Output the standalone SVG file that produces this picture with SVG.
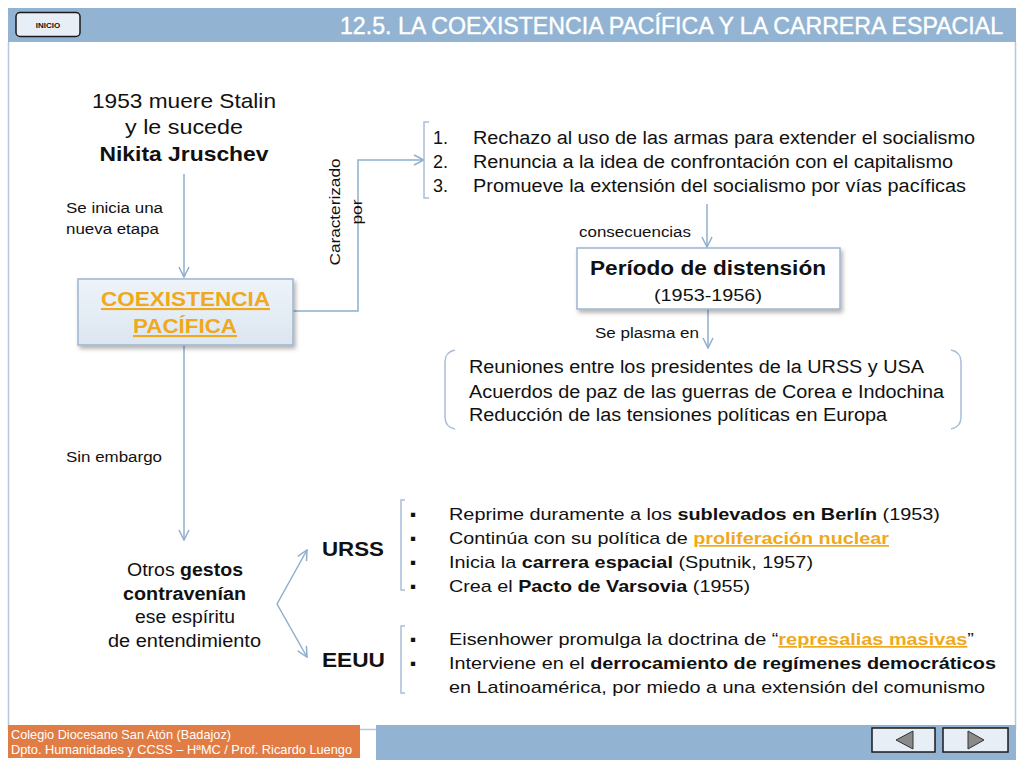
<svg xmlns="http://www.w3.org/2000/svg" width="1024" height="768" viewBox="0 0 1024 768">
<defs>
<style>
text{font-family:"Liberation Sans",Arial,Helvetica,sans-serif;fill:#111}
.b{font-weight:bold}
.c{text-anchor:middle}
.link{fill:#F0A81C;font-weight:bold;text-decoration:underline}
.con{fill:none;stroke:#8FAECD;stroke-width:1.5}
.brk{fill:none;stroke:#A9BFD6;stroke-width:1.5}
.btn{fill:#E8EEF6;stroke:#1a1a1a;stroke-width:1.5}
.tri{fill:#8a8a8a;stroke:#333;stroke-width:1}
.w{fill:#fff}
</style>
<marker id="ah" viewBox="0 0 12 12" refX="11" refY="6" markerWidth="12" markerHeight="12" markerUnits="userSpaceOnUse" orient="auto">
<path d="M1,1 L11,6 L1,11" fill="none" stroke="#8FAECD" stroke-width="1.5"/>
</marker>
<filter id="sh" x="-10%" y="-10%" width="130%" height="140%">
<feDropShadow dx="2" dy="3" stdDeviation="2" flood-color="#000" flood-opacity="0.3"/>
</filter>
<linearGradient id="gb" x1="0" y1="0" x2="0" y2="1">
<stop offset="0" stop-color="#EEF3F9"/>
<stop offset="1" stop-color="#DCE6F1"/>
</linearGradient>
</defs>
<rect width="1024" height="768" fill="#fff"/>
<g id="frame">
<path d="M8.5,42 V729.5 H1015.5 V42" fill="none" stroke="#B5C8DC" stroke-width="1.5"/>
<rect x="8" y="8" width="1008" height="34" fill="#93B3D2"/>
<text x="1003" y="34" text-anchor="end" font-size="23" class="w" textLength="663" lengthAdjust="spacingAndGlyphs" style="stroke:#fff;stroke-width:0.4">12.5. LA COEXISTENCIA PACÍFICA Y LA CARRERA ESPACIAL</text>
<rect class="btn" x="16" y="12.5" width="64" height="24" rx="4"/>
<text x="48" y="28" class="c b" font-size="8">INICIO</text>
<rect x="8" y="725" width="352" height="33" fill="#E07C44"/>
<text x="11" y="739" font-size="13" class="w" textLength="220" lengthAdjust="spacingAndGlyphs">Colegio Diocesano San Atón (Badajoz)</text>
<text x="11" y="754" font-size="13" class="w" textLength="341" lengthAdjust="spacingAndGlyphs">Dpto. Humanidades y CCSS – HªMC / Prof. Ricardo Luengo</text>
<rect x="376" y="725" width="640" height="35" fill="#93B3D2"/>
<rect class="btn" x="872" y="728" width="63" height="24"/>
<polygon class="tri" points="896,740 913,731 913,749"/>
<rect class="btn" x="943" y="728" width="65" height="24"/>
<polygon class="tri" points="984,740 968,731 968,749"/>
</g>
<g id="connectors">
<line class="con" x1="184" y1="174" x2="184" y2="277" marker-end="url(#ah)"/>
<polyline class="con" points="293,311 358,311 358,160 424,160" marker-end="url(#ah)"/>
<line class="con" x1="707" y1="204" x2="707" y2="247" marker-end="url(#ah)"/>
<line class="con" x1="708" y1="309" x2="708" y2="348" marker-end="url(#ah)"/>
<line class="con" x1="184" y1="345" x2="184" y2="540" marker-end="url(#ah)"/>
<line class="con" x1="277" y1="604" x2="307" y2="550" marker-end="url(#ah)"/>
<line class="con" x1="277" y1="604" x2="307" y2="657" marker-end="url(#ah)"/>
<text x="66" y="213" font-size="14" textLength="97" lengthAdjust="spacingAndGlyphs">Se inicia una</text>
<text x="66" y="234" font-size="14" textLength="93" lengthAdjust="spacingAndGlyphs">nueva etapa</text>
<text transform="translate(340,212) rotate(-90)" class="c" font-size="14" textLength="107" lengthAdjust="spacingAndGlyphs">Caracterizado</text>
<text transform="translate(362,212) rotate(-90)" class="c" font-size="14" textLength="25" lengthAdjust="spacingAndGlyphs">por</text>
<text x="579" y="237" font-size="14" textLength="112" lengthAdjust="spacingAndGlyphs">consecuencias</text>
<text x="595" y="338" font-size="14" textLength="104" lengthAdjust="spacingAndGlyphs">Se plasma en</text>
<text x="66" y="462" font-size="14" textLength="96" lengthAdjust="spacingAndGlyphs">Sin embargo</text>
</g>
<g id="stalin">
<text x="184" y="108" class="c" font-size="21" textLength="184" lengthAdjust="spacingAndGlyphs">1953 muere Stalin</text>
<text x="184" y="134" class="c" font-size="21" textLength="118" lengthAdjust="spacingAndGlyphs">y le sucede</text>
<text x="184" y="161" class="c b" font-size="21" textLength="169" lengthAdjust="spacingAndGlyphs">Nikita Jruschev</text>
</g>
<g id="coexistencia">
<rect x="78" y="279" width="215" height="66" fill="url(#gb)" stroke="#9DB5CF" stroke-width="1.5" filter="url(#sh)"/>
<text x="185.5" y="306" class="c link" font-size="21" textLength="169" lengthAdjust="spacingAndGlyphs">COEXISTENCIA</text>
<text x="185" y="333" class="c link" font-size="21" textLength="104" lengthAdjust="spacingAndGlyphs">PACÍFICA</text>
</g>
<g id="caracteristicas">
<polyline class="brk" points="429,122 424,122 424,198 429,198"/>
<text x="433" y="144" font-size="18">1.</text>
<text x="473" y="144" font-size="18" textLength="502" lengthAdjust="spacingAndGlyphs">Rechazo al uso de las armas para extender el socialismo</text>
<text x="433" y="168" font-size="18">2.</text>
<text x="473" y="168" font-size="18" textLength="480" lengthAdjust="spacingAndGlyphs">Renuncia a la idea de confrontación con el capitalismo</text>
<text x="433" y="192" font-size="18">3.</text>
<text x="473" y="192" font-size="18" textLength="493" lengthAdjust="spacingAndGlyphs">Promueve la extensión del socialismo por vías pacíficas</text>
</g>
<g id="distension">
<rect x="577" y="248" width="263" height="61" fill="#fff" stroke="#9DB5CF" stroke-width="1.5" filter="url(#sh)"/>
<text x="708" y="275" class="c b" font-size="20" textLength="236" lengthAdjust="spacingAndGlyphs">Período de distensión</text>
<text x="708" y="301" class="c" font-size="17" textLength="108" lengthAdjust="spacingAndGlyphs">(1953-1956)</text>
</g>
<g id="plasma">
<path class="brk" d="M455,350 Q445,352 445,362 L445,417 Q445,427 455,429"/>
<path class="brk" d="M951,350 Q961,352 961,362 L961,417 Q961,427 951,429"/>
<text x="469" y="373" font-size="18" textLength="455" lengthAdjust="spacingAndGlyphs">Reuniones entre los presidentes de la URSS y USA</text>
<text x="469" y="398" font-size="18" textLength="475" lengthAdjust="spacingAndGlyphs">Acuerdos de paz de las guerras de Corea e Indochina</text>
<text x="469" y="421" font-size="18" textLength="418" lengthAdjust="spacingAndGlyphs">Reducción de las tensiones políticas en Europa</text>
</g>
<g id="gestos">
<text x="185" y="576" class="c" font-size="18" textLength="116" lengthAdjust="spacingAndGlyphs">Otros <tspan class="b">gestos</tspan></text>
<text x="184.5" y="600" class="c b" font-size="18" textLength="123" lengthAdjust="spacingAndGlyphs">contravenían</text>
<text x="185" y="623" class="c" font-size="18" textLength="100" lengthAdjust="spacingAndGlyphs">ese espíritu</text>
<text x="184.5" y="647" class="c" font-size="18" textLength="153" lengthAdjust="spacingAndGlyphs">de entendimiento</text>
</g>
<g id="urss">
<text x="322" y="556" class="b" font-size="21" textLength="62" lengthAdjust="spacingAndGlyphs">URSS</text>
<polyline class="brk" points="405,500 401,500 401,590 405,590"/>
<g font-size="17">
<text x="410" y="520">▪</text><text x="449" y="520" textLength="491" lengthAdjust="spacingAndGlyphs">Reprime duramente a los <tspan class="b">sublevados en Berlín</tspan> (1953)</text>
<text x="410" y="544">▪</text><text x="449" y="544" textLength="440" lengthAdjust="spacingAndGlyphs">Continúa con su política de <tspan class="link">proliferación nuclear</tspan></text>
<text x="410" y="568">▪</text><text x="449" y="568" textLength="364" lengthAdjust="spacingAndGlyphs">Inicia la <tspan class="b">carrera espacial</tspan> (Sputnik, 1957)</text>
<text x="410" y="592">▪</text><text x="449" y="592" textLength="301" lengthAdjust="spacingAndGlyphs">Crea el <tspan class="b">Pacto de Varsovia</tspan> (1955)</text>
</g>
</g>
<g id="eeuu">
<text x="322" y="667" class="b" font-size="21" textLength="63" lengthAdjust="spacingAndGlyphs">EEUU</text>
<polyline class="brk" points="405,626 401,626 401,693 405,693"/>
<g font-size="17">
<text x="410" y="645">▪</text><text x="449" y="645" textLength="525" lengthAdjust="spacingAndGlyphs">Eisenhower promulga la doctrina de “<tspan class="link">represalias masivas</tspan>”</text>
<text x="410" y="669">▪</text><text x="449" y="669" textLength="547" lengthAdjust="spacingAndGlyphs">Interviene en el <tspan class="b">derrocamiento de regímenes democráticos</tspan></text>
<text x="449" y="693" textLength="536" lengthAdjust="spacingAndGlyphs">en Latinoamérica, por miedo a una extensión del comunismo</text>
</g>
</g>
</svg>
